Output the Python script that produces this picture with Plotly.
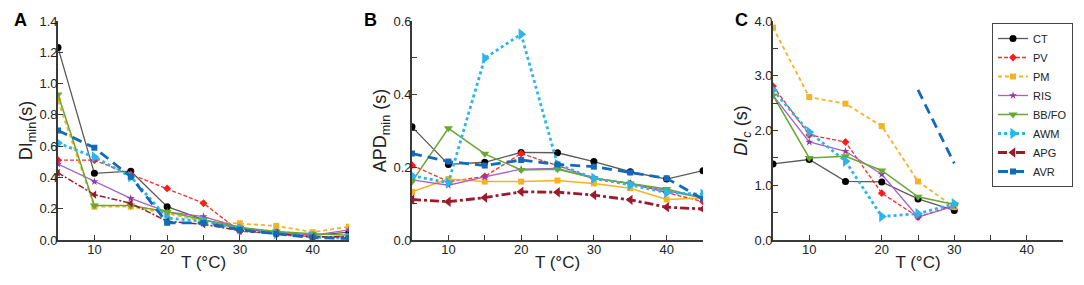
import plotly.graph_objects as go

T = [5, 10, 15, 20, 25, 30, 35, 40, 45]
T_C = [5, 10, 15, 20, 25, 30]
T_AVR_C = [25, 30]

series = ["CT", "PV", "PM", "RIS", "BB/FO", "AWM", "APG", "AVR"]

# Panel A: DI_min (s)
dimin_CT = [1.23, 0.426, 0.44, 0.213, 0.13, 0.07, 0.05, 0.03, 0.05]
dimin_PV = [0.51, 0.51, 0.42, 0.33, 0.235, 0.055, 0.04, 0.02, 0.02]
dimin_PM = [0.89, 0.213, 0.213, 0.17, 0.12, 0.107, 0.09, 0.05, 0.085]
dimin_RIS = [0.485, 0.373, 0.266, 0.18, 0.15, 0.08, 0.05, 0.03, 0.065]
dimin_BBFO = [0.93, 0.22, 0.22, 0.18, 0.13, 0.08, 0.055, 0.04, 0.03]
dimin_AWM = [0.62, 0.53, 0.405, 0.14, 0.12, 0.07, 0.04, 0.02, 0.01]
dimin_APG = [0.43, 0.29, 0.235, 0.12, 0.10, 0.06, 0.04, 0.02, 0.02]
dimin_AVR = [0.70, 0.59, 0.405, 0.11, 0.11, 0.065, 0.04, 0.015, 0.01]

# Panel B: APD_min (s)
apd_CT = [0.31, 0.207, 0.213, 0.24, 0.239, 0.215, 0.187, 0.167, 0.19]
apd_PV = [0.205, 0.16, 0.174, 0.237, 0.204, 0.169, 0.155, 0.13, 0.105]
apd_PM = [0.132, 0.167, 0.16, 0.16, 0.163, 0.155, 0.142, 0.111, 0.115]
apd_RIS = [0.165, 0.15, 0.173, 0.194, 0.196, 0.169, 0.155, 0.135, 0.115]
apd_BBFO = [0.16, 0.306, 0.236, 0.192, 0.194, 0.17, 0.155, 0.14, 0.115]
apd_AWM = [0.176, 0.157, 0.498, 0.564, 0.207, 0.169, 0.151, 0.13, 0.125]
apd_APG = [0.111, 0.105, 0.116, 0.132, 0.131, 0.123, 0.11, 0.09, 0.085]
apd_AVR = [0.237, 0.215, 0.204, 0.219, 0.207, 0.201, 0.185, 0.169, 0.112]

# Panel C: DI_c (s)
dic_CT = [1.39, 1.47, 1.07, 1.06, 0.75, 0.54]
dic_PV = [2.81, 1.92, 1.79, 0.855, 0.42, 0.63]
dic_PM = [3.88, 2.61, 2.49, 2.08, 1.07, 0.60]
dic_RIS = [2.64, 1.79, 1.62, 1.20, 0.42, 0.62]
dic_BBFO = [2.64, 1.50, 1.53, 1.27, 0.79, 0.65]
dic_AWM = [2.74, 1.97, 1.44, 0.43, 0.48, 0.66]
dic_AVR = [2.74, 1.40]

FONT = "Liberation Sans, Arial, sans-serif"
AX = "#3a3a3a"

style = {
    "CT": dict(line=dict(color="#5a5a5a", width=1.3), marker=dict(symbol="circle", size=7, color="black")),
    "PV": dict(line=dict(color="#ff2a2a", width=1.3, dash="4px,2px"), marker=dict(symbol="diamond", size=6, color="#ff1a1a")),
    "PM": dict(line=dict(color="#f5b324", width=1.8, dash="4px,3px"), marker=dict(symbol="square", size=6, color="#f5b324")),
    "RIS": dict(line=dict(color="#a860c8", width=1.3), marker=dict(symbol="star", size=6, color="#8a3fa8")),
    "BB/FO": dict(line=dict(color="#66a832", width=1.5), marker=dict(symbol="triangle-down", size=8, color="#66a832")),
    "AWM": dict(line=dict(color="#2bb5ee", width=2.8, dash="dot"), marker=dict(symbol="triangle-right", size=10, color="#2bb5ee")),
    "APG": dict(line=dict(color="#9a1b2b", width=2.8, dash="dashdot"), marker=dict(symbol="triangle-left", size=9, color="#9a1b2b")),
    "AVR": dict(line=dict(color="#1469b8", width=2.8, dash="10px,6px"), marker=dict(symbol="square", size=6, color="#1469b8")),
}

panelA = dict(zip(series, [dimin_CT, dimin_PV, dimin_PM, dimin_RIS, dimin_BBFO, dimin_AWM, dimin_APG, dimin_AVR]))
panelB = dict(zip(series, [apd_CT, apd_PV, apd_PM, apd_RIS, apd_BBFO, apd_AWM, apd_APG, apd_AVR]))
panelC = {"CT": dic_CT, "PV": dic_PV, "PM": dic_PM, "RIS": dic_RIS, "BB/FO": dic_BBFO, "AWM": dic_AWM}

fig = go.Figure()

for i, name in enumerate(series):
    st = style[name]
    line = dict(st["line"])
    marker = dict(st["marker"])
    if name == "APG":
        line = dict(color="#9a1b2b", width=1.5, dash="6px,2px,2px,2px")
        marker["size"] = 7
    fig.add_trace(go.Scatter(x=T, y=panelA[name], name=name, mode="lines+markers",
                             line=line, marker=marker, xaxis="x", yaxis="y",
                             showlegend=(name == "PM"), legendrank=i + 1, legendgroup=name))
for i, name in enumerate(series):
    st = style[name]
    line = dict(st["line"])
    if name == "PM":
        line = dict(color="#f5b324", width=1.5)
    fig.add_trace(go.Scatter(x=T, y=panelB[name], name=name, mode="lines+markers",
                             line=line, marker=st["marker"], xaxis="x2", yaxis="y2",
                             showlegend=(name != "PM"), legendrank=i + 1, legendgroup=name))
for name in ["CT", "PV", "PM", "RIS", "BB/FO", "AWM"]:
    st = style[name]
    fig.add_trace(go.Scatter(x=T_C, y=panelC[name], name=name, mode="lines+markers",
                             line=st["line"], marker=st["marker"], xaxis="x3", yaxis="y3",
                             showlegend=False, legendgroup=name))
fig.add_trace(go.Scatter(x=T_AVR_C, y=dic_AVR, name="AVR", mode="lines",
                         line=style["AVR"]["line"], xaxis="x3", yaxis="y3",
                         showlegend=False, legendgroup="AVR"))

# page body has an 8px margin; figure sized to fit the window
OFF = 8
W, H = 1084 - 2 * OFF, 285 - 2 * OFF
def fx(px):
    return (px - OFF) / W
def fy(py):
    return 1 - (py - OFF) / H
def xd(a, b):
    return [fx(a), fx(b)]
ydom = [fy(240), fy(21)]

def xaxis(dom, anchor):
    return dict(domain=dom, anchor=anchor, range=[5, 45], tick0=0, dtick=10,
                showline=True, linecolor=AX, linewidth=1.6, ticks="inside", ticklen=5,
                tickcolor=AX, tickwidth=1.3, showgrid=False, zeroline=False, automargin=False,
                tickfont=dict(family=FONT, size=13, color="#222"), ticklabelstandoff=-3,
                title=dict(text="T (°C)", font=dict(family=FONT, size=17, color="#222"), standoff=0),
                minor=dict(dtick=5, tick0=0, ticks="inside", ticklen=5, tickcolor=AX, tickwidth=1.3))

def yaxis(anchor, rng, dtick, title, minor=None, fmt=".1f"):
    d = dict(domain=ydom, anchor=anchor, range=rng, dtick=dtick, tick0=0, tickformat=fmt,
             showline=True, linecolor=AX, linewidth=1.6, ticks="inside", ticklen=5,
             tickcolor=AX, tickwidth=1.3, showgrid=False, zeroline=False, automargin=False,
             tickfont=dict(family=FONT, size=13, color="#222"), ticklabelstandoff=-4,
             title=dict(text=title, font=dict(family=FONT, size=18, color="#222"), standoff=2))
    if minor:
        d["minor"] = dict(dtick=minor, tick0=0, ticks="inside", ticklen=5, tickcolor=AX, tickwidth=1.3)
    return d

fig.update_layout(
    width=W, height=H,
    margin=dict(l=0, r=0, t=0, b=0, autoexpand=False),
    paper_bgcolor="white", plot_bgcolor="white",
    font=dict(family=FONT, color="#222"),
    xaxis=xaxis(xd(58, 349), "y"),
    yaxis=yaxis("x", [0, 1.4], 0.2, "DI<sub>min</sub>(s)"),
    xaxis2=xaxis(xd(412, 703), "y2"),
    yaxis2=yaxis("x2", [0, 0.6], 0.2, "APD<sub>min</sub> (s)", minor=0.1),
    xaxis3=xaxis(xd(773, 1063), "y3"),
    yaxis3=yaxis("x3", [0, 4.0], 1.0, "<i>DI<sub>c</sub></i> (s)", minor=0.5),
    legend=dict(x=fx(992), y=fy(23), xanchor="left", yanchor="top",
                bordercolor="#444", borderwidth=1, bgcolor="white",
                font=dict(family=FONT, size=11, color="#222"),
                itemwidth=30, tracegroupgap=0, traceorder="normal"),
    annotations=[
        dict(text="<b>A</b>", x=fx(12), y=fy(20), xref="paper", yref="paper",
             xanchor="left", yanchor="middle", showarrow=False, font=dict(family=FONT, size=18, color="black")),
        dict(text="<b>B</b>", x=fx(362), y=fy(20), xref="paper", yref="paper",
             xanchor="left", yanchor="middle", showarrow=False, font=dict(family=FONT, size=18, color="black")),
        dict(text="<b>C</b>", x=fx(733), y=fy(20), xref="paper", yref="paper",
             xanchor="left", yanchor="middle", showarrow=False, font=dict(family=FONT, size=18, color="black")),
    ],
)

fig.write_html("out.html")
